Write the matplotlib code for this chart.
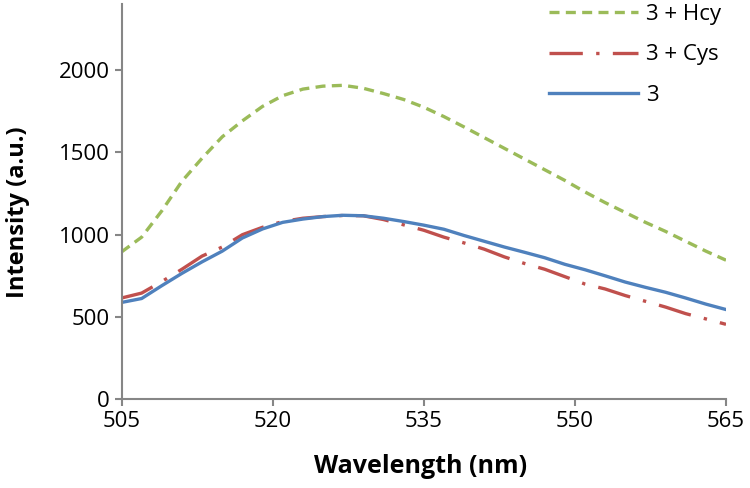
import numpy as np
import matplotlib.pyplot as plt

# wavelength (nm) and emission intensities
wavelength = [505, 507, 509, 511, 513, 515, 517, 519, 521, 523, 525, 527, 529, 531, 533,
              535, 537, 539, 541, 543, 545, 547, 549, 551, 553, 555, 557, 559, 561, 563, 565]

hcy = [895, 985, 1145, 1325, 1465, 1595, 1692, 1780, 1845, 1885, 1903, 1908, 1890, 1858, 1822,
       1775, 1718, 1655, 1590, 1525, 1460, 1395, 1330, 1260, 1195, 1135, 1075, 1020, 960, 900, 845]

cys = [615, 645, 715, 790, 870, 925, 1000, 1045, 1080, 1100, 1110, 1117, 1115, 1092, 1060,
       1027, 985, 950, 912, 865, 825, 790, 745, 700, 670, 630, 595, 560, 520, 488, 455]

probe = [588, 612, 690, 765, 835, 900, 980, 1035, 1075, 1095, 1110, 1118, 1115, 1100, 1080,
         1058, 1033, 995, 960, 925, 893, 860, 820, 787, 750, 712, 680, 650, 615, 578, 545]

labels = ["3 + Hcy", "3 + Cys", "3"]
colors = ["#9BBB59", "#C0504D", "#4F81BD"]

plt.rcParams['font.family'] = ['Open Sans', 'DejaVu Sans']

fig = plt.figure(figsize=(7.5, 4.88), dpi=100)
ax = fig.add_axes([0.162, 0.182, 0.806, 0.809])

lw = 2.4
ax.plot(wavelength, hcy, color=colors[0], linewidth=lw, dashes=(3.0, 1.9), label=labels[0])
ax.plot(wavelength, cys, color=colors[1], linewidth=lw, dashes=(10.0, 4.0, 1.0, 4.0), label=labels[1])
ax.plot(wavelength, probe, color=colors[2], linewidth=lw, label=labels[2])

ax.set_xlim(505, 565)
ax.set_ylim(0, 2400)
ax.set_xticks([505, 520, 535, 550, 565])
ax.set_yticks([0, 500, 1000, 1500, 2000])

for s in ["top", "right"]:
    ax.spines[s].set_visible(False)
for s in ["left", "bottom"]:
    ax.spines[s].set_color("#868686")
    ax.spines[s].set_linewidth(1.5)
ax.tick_params(axis="both", colors="#868686", labelcolor="black", labelsize=16,
               length=5, width=1.5, direction="out")

ax.set_xlabel("Wavelength (nm)", fontsize=18, fontweight="bold")
ax.set_ylabel("Intensity (a.u.)", fontsize=17, fontweight="bold")
ax.xaxis.set_label_coords(0.494, -0.138)
ax.yaxis.set_label_coords(-0.152, 0.474)

ax.legend(loc="upper left", bbox_to_anchor=(549 / 750, 1 - 4 / 488), bbox_transform=fig.transFigure,
          frameon=False, fontsize=16, handlelength=4.0, labelspacing=0.87, handletextpad=0.35,
          borderpad=0, borderaxespad=0)

fig.savefig("out.png", dpi=100)
